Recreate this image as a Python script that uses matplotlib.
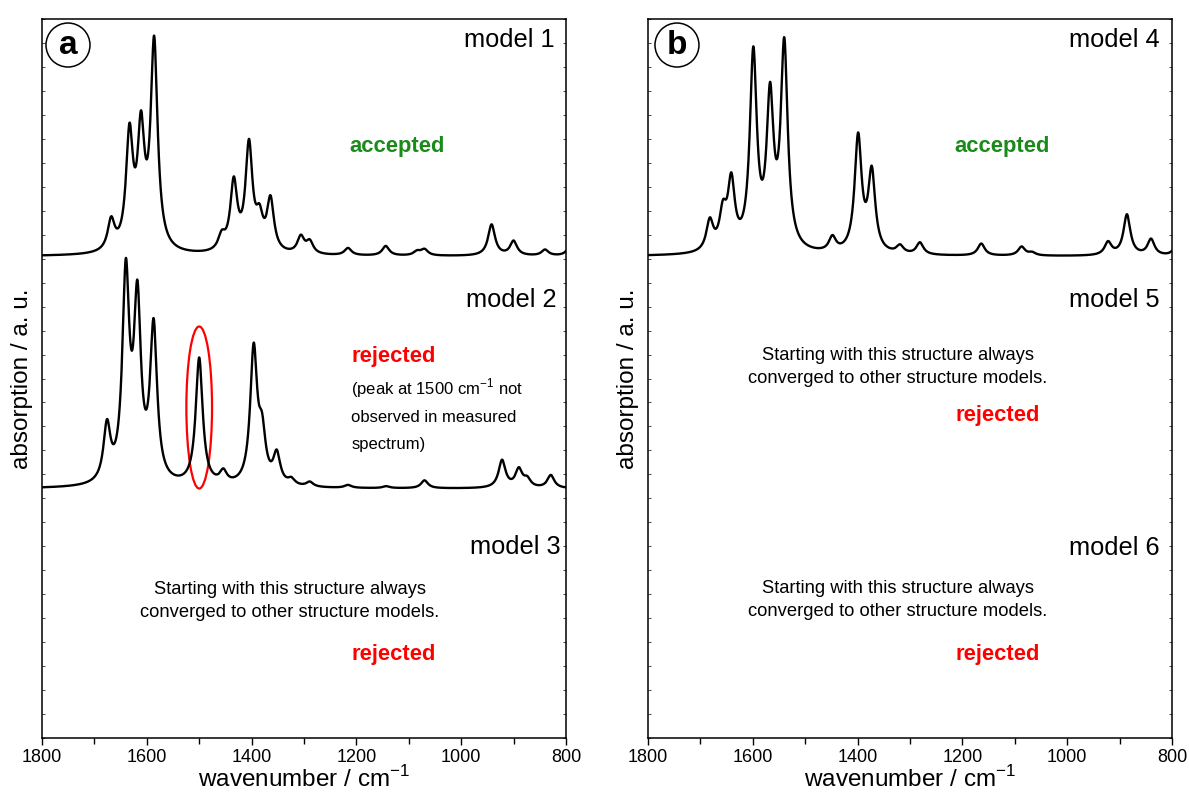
import numpy as np
import matplotlib
matplotlib.use("Agg")
from matplotlib import pyplot as plt
from matplotlib.patches import Ellipse
from matplotlib.ticker import MultipleLocator

plt.rcParams['font.family'] = ['Liberation Sans', 'DejaVu Sans']
plt.rcParams['mathtext.fontset'] = 'custom'
plt.rcParams['mathtext.rm'] = 'Liberation Sans'

# peak lists: position (cm-1), intensity (% of one panel band)
m1_pos = [1668, 1633, 1611, 1586, 1457, 1434, 1405, 1385, 1364, 1306, 1289,
          1216, 1144, 1084, 1070, 942, 900, 840, 792]
m1_int = [12.5, 47, 47, 86, 6, 28.5, 44, 12, 21.5, 7, 5, 3, 4, 1.7, 2.5, 13, 6, 2.5, 4]

m2_pos = [1676, 1640, 1618, 1587, 1500, 1454, 1396, 1380, 1352, 1324, 1289,
          1216, 1143, 1070, 922, 890, 874, 829]
m2_int = [23, 85, 72.5, 64, 53, 5, 56, 19, 12.5, 2.5, 2, 1.2, 0.8, 3.3, 11.5, 7.5, 3.3, 5.4]

m4_pos = [1682, 1657, 1641, 1599, 1567, 1540, 1448, 1399, 1373, 1319, 1281,
          1164, 1087, 1067, 922, 886, 840, 795]
m4_int = [12.5, 14.5, 27.5, 81, 60.5, 84.5, 6, 48, 33, 3.3, 5, 5, 3.7, 1.2, 5.4, 17, 6.7, 2.5]

hwhm = 8.0
baseline_top = 2.01
baseline_mid = 1.04

wn = np.linspace(800, 1800, 3000)


def spectrum(pos, inten):
    y = np.zeros_like(wn)
    for p, a in zip(pos, inten):
        y += a / 100.0 / (1 + ((wn - p) / hwhm) ** 2)
    return y


fig = plt.figure(figsize=(11.89, 7.98), dpi=100)
ax_a = fig.add_axes([42 / 1189, 1 - 738 / 798, 524 / 1189, 719 / 798])
ax_b = fig.add_axes([648 / 1189, 1 - 738 / 798, 524 / 1189, 719 / 798])

for ax in (ax_a, ax_b):
    ax.set_xlim(1800, 800)
    ax.set_ylim(0, 3)
    ax.xaxis.set_major_locator(MultipleLocator(200))
    ax.xaxis.set_minor_locator(MultipleLocator(100))
    ax.yaxis.set_major_locator(MultipleLocator(0.1))
    ax.set_yticklabels([])
    ax.tick_params(axis='x', which='major', direction='out', length=5, width=1,
                   labelsize=13, pad=3)
    ax.tick_params(axis='x', which='minor', direction='out', length=4, width=1)
    ax.tick_params(axis='y', which='major', direction='in', length=2.5, width=0.5,
                   left=True, right=True)
    for s in ax.spines.values():
        s.set_linewidth(1.1)
    ax.set_xlabel('wavenumber / cm$^{\\mathregular{-1}}$', fontsize=17.5, labelpad=0)
    ax.set_ylabel('absorption / a. u.', fontsize=17.5, labelpad=3)

starting = 'Starting with this structure always\nconverged to other structure models.'

# panel a
ax_a.plot(wn, baseline_top + spectrum(m1_pos, m1_int), color='black', lw=1.7)
ax_a.plot(wn, baseline_mid + spectrum(m2_pos, m2_int), color='black', lw=1.7)
ax_a.add_patch(Ellipse((1500, 1.379), 49, 0.676, fill=False, edgecolor='red', lw=1.6))

ax_a.text(821, 2.912, 'model 1', ha='right', va='center', fontsize=18.3)
ax_a.text(819, 1.827, 'model 2', ha='right', va='center', fontsize=18.3)
ax_a.text(810, 0.797, 'model 3', ha='right', va='center', fontsize=18.3)
ax_a.text(1122, 2.470, 'accepted', ha='center', va='center', fontsize=15.8,
          fontweight='bold', color='#1a8a1a')
ax_a.text(1210, 1.590, 'rejected', ha='left', va='center', fontsize=15.8,
          fontweight='bold', color='red')
ax_a.text(1210, 1.460, '(peak at 1500 cm$^{\\mathregular{-1}}$ not', ha='left', va='center',
          fontsize=12)
ax_a.text(1210, 1.339, 'observed in measured', ha='left', va='center', fontsize=12)
ax_a.text(1210, 1.223, 'spectrum)', ha='left', va='center', fontsize=12)
ax_a.text(1327, 0.572, starting, ha='center', va='center', fontsize=13.2, linespacing=1.4)
ax_a.text(1210, 0.350, 'rejected', ha='left', va='center', fontsize=15.8,
          fontweight='bold', color='red')

# panel b
ax_b.plot(wn, baseline_top + spectrum(m4_pos, m4_int), color='black', lw=1.7)
ax_b.text(823, 2.912, 'model 4', ha='right', va='center', fontsize=18.3)
ax_b.text(823, 1.827, 'model 5', ha='right', va='center', fontsize=18.3)
ax_b.text(823, 0.793, 'model 6', ha='right', va='center', fontsize=18.3)
ax_b.text(1124, 2.470, 'accepted', ha='center', va='center', fontsize=15.8,
          fontweight='bold', color='#1a8a1a')
ax_b.text(1323, 1.548, starting, ha='center', va='center', fontsize=13.2, linespacing=1.4)
ax_b.text(1132, 1.344, 'rejected', ha='center', va='center', fontsize=15.8,
          fontweight='bold', color='red')
ax_b.text(1323, 0.576, starting, ha='center', va='center', fontsize=13.2, linespacing=1.4)
ax_b.text(1132, 0.350, 'rejected', ha='center', va='center', fontsize=15.8,
          fontweight='bold', color='red')

# circled panel letters
for ax, letter, cx in ((ax_a, 'a', 0.0496), (ax_b, 'b', 0.0553)):
    ax.add_patch(Ellipse((cx, 0.9638), 44 / 524, 44 / 719, transform=ax.transAxes,
                         fill=False, edgecolor='black', lw=1.1))
    ax.text(cx, 0.9638, letter, transform=ax.transAxes, ha='center', va='center',
            fontsize=24, fontweight='bold')

fig.savefig('out.png', dpi=100)
